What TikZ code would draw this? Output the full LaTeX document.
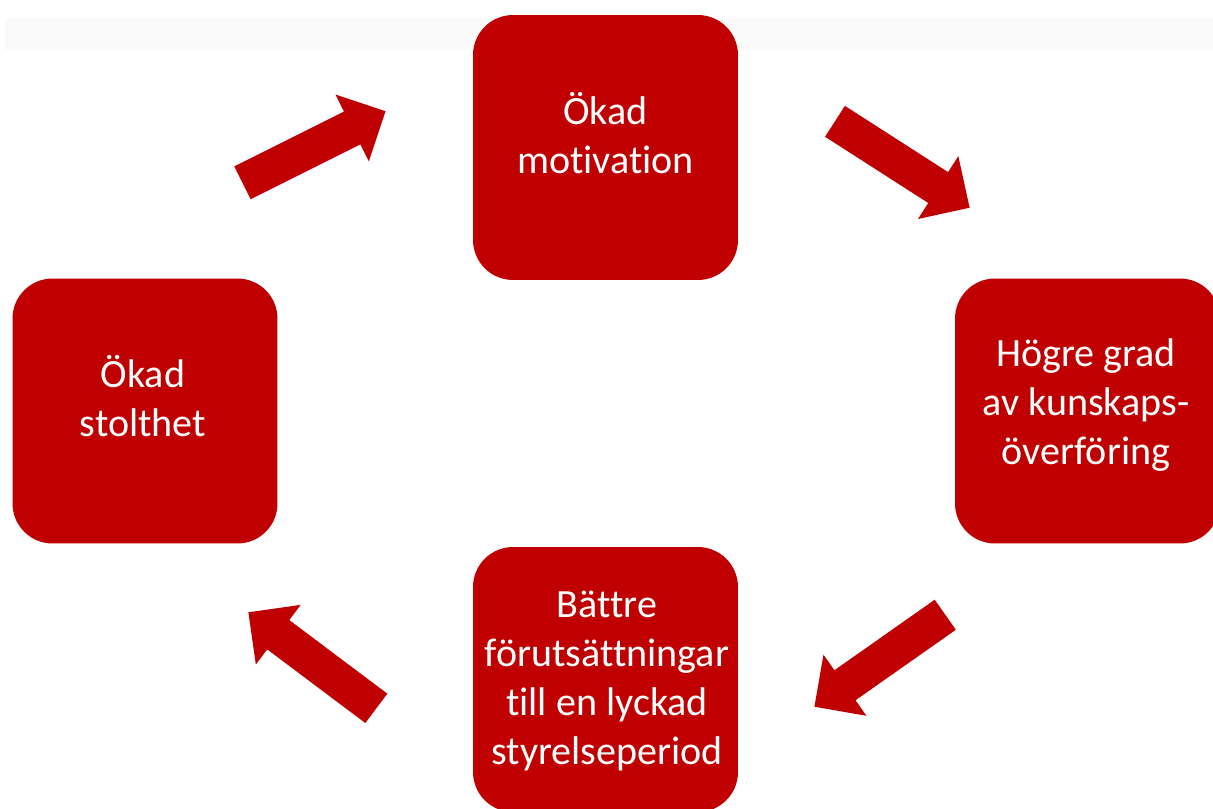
\documentclass[tikz,border=0pt]{standalone}
\usepackage{fontspec}
\setmainfont{Carlito}[Ligatures=NoCommon]
\usetikzlibrary{shapes.arrows, positioning}
\definecolor{cycleRed}{HTML}{C00000}

\begin{document}
\begin{tikzpicture}[
  x=0.02cm, y=-0.02cm,
  stepbox/.style={fill=cycleRed, rounded corners=0.8cm, minimum width=5.3cm,
                  minimum height=5.3cm, inner sep=0pt},
  steptext/.style={text=white, align=center, inner sep=0pt,
                   font=\fontsize{22.8}{27.8}\selectfont},
  blockarrow/.style={single arrow, fill=cycleRed, inner xsep=0pt, inner ysep=0.36cm,
                     single arrow head extend=0.38cm, single arrow tip angle=90,
                     minimum height=3.2cm, anchor=tip},
]
\useasboundingbox (0,0) rectangle (1213,808);

% faint band behind the top row
\fill[black!2] (5,18) rectangle (1213,50);

% ============================ the four steps =================================
\node[stepbox] (motivation) at (605.5,147.5) {};
\node[stepbox] (kunskap)    at (1087.5,411)  {};
\node[stepbox] (period)     at (605.5,679.5) {};
\node[stepbox] (stolthet)   at (145,411)     {};

\node[steptext] (motivationtext) at (605.5,133) {Ökad\\motivation};
\node[steptext] (kunskaptext)    at (1086,405)  {Högre grad\\av kunskaps-\\överföring};
\node[steptext] (periodtext)     at (607,681)   {Bättre\\förutsättningar\\till en lyckad\\styrelseperiod};
\node[steptext] (stolthettext)   at (143,396)   {Ökad\\stolthet};

% ========================= the arrows of the cycle ===========================
% each arrow is pinned by its tip
\node[blockarrow, rotate=26.6]  (toMotivation) at (386,111) {};
\node[blockarrow, rotate=-32.7] (toKunskap)    at (970,208) {};
\node[blockarrow, rotate=215.1] (toPeriod)     at (814,707) {};
\node[blockarrow, rotate=143.1] (toStolthet)   at (248,612) {};
\end{tikzpicture}
\end{document}
